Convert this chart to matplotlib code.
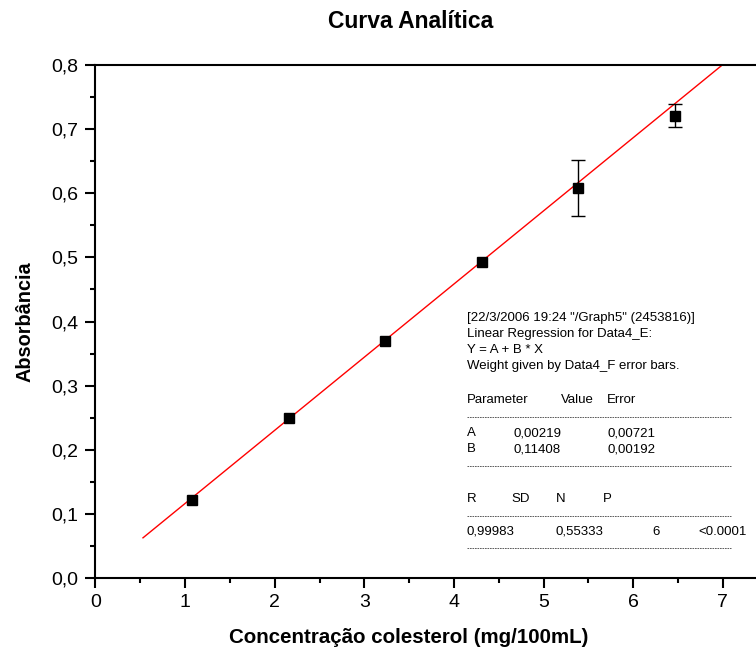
import matplotlib.pyplot as plt
import numpy as np
from matplotlib.ticker import MultipleLocator, FuncFormatter
from matplotlib.lines import Line2D

plt.rcParams['font.family'] = ['Liberation Sans', 'DejaVu Sans']

# Data
conc = np.array([1.077, 2.154, 3.231, 4.308, 5.385, 6.462])
absorb = np.array([0.122, 0.250, 0.370, 0.493, 0.608, 0.721])
err = np.array([0.0, 0.0, 0.0, 0.0, 0.044, 0.018])

# Regression parameters
A = 0.00219
B = 0.11408
fit_x = np.array([0.53, 7.0])

report_lines = [
    '[22/3/2006 19:24 "/Graph5" (2453816)]',
    'Linear Regression for Data4_E:',
    'Y = A + B * X',
    'Weight given by Data4_F error bars.',
]

fig = plt.figure(figsize=(7.56, 6.56), dpi=100)
ax = fig.add_axes([0.1263, 0.1189, 0.8737, 0.782])

ax.plot(fit_x, A + B * fit_x, color='red', linewidth=1, zorder=2)
has_err = err > 0
ax.errorbar(conc[has_err], absorb[has_err], yerr=err[has_err], fmt='none',
            ecolor='black', elinewidth=1, capsize=5, capthick=1, zorder=3)
ax.plot(conc, absorb, 's', color='black', markersize=7, zorder=4)

ax.set_xlim(0, 7.37)
ax.set_ylim(0, 0.8)
ax.xaxis.set_major_locator(MultipleLocator(1))
ax.xaxis.set_minor_locator(MultipleLocator(0.5))
ax.yaxis.set_major_locator(MultipleLocator(0.1))
ax.yaxis.set_minor_locator(MultipleLocator(0.05))
ax.xaxis.set_major_formatter(FuncFormatter(lambda v, p: f"{v:.0f}"))
ax.yaxis.set_major_formatter(FuncFormatter(lambda v, p: f"{v:.1f}".replace('.', ',')))
ax.tick_params(which='major', direction='out', length=7.5, width=1.5, labelsize=14)
ax.tick_params(axis='x', which='major', pad=4)
ax.tick_params(axis='y', which='major', pad=5)
ax.tick_params(which='minor', direction='out', length=3.5, width=1.5)
ax.spines['right'].set_visible(False)
for s in ['left', 'top', 'bottom']:
    ax.spines[s].set_linewidth(1.5)

fig.text(411 / 756, 1 - 22 / 656, 'Curva Analítica', ha='center', va='center',
         fontsize=16.5, fontweight='bold')
ax.set_xlabel('Concentração colesterol (mg/100mL)', fontsize=14.8, fontweight='bold')
ax.xaxis.set_label_coords((409 - 95.5) / (756 - 95.5), -(637 - 578) / 513, transform=ax.transAxes)
ax.xaxis.label.set_va('center')
ax.set_ylabel('Absorbância', fontsize=14.3, fontweight='bold')
ax.yaxis.set_label_coords(-(95.5 - 25) / (756 - 95.5), (578 - 322) / 513, transform=ax.transAxes)
ax.yaxis.label.set_va('center')

# Regression report box
def fx(px):
    return px / 756

def fy(py):
    return 1 - py / 656

fs = 9.5
for i, t in enumerate(report_lines):
    fig.text(fx(467), fy(318 + 16 * i), t, fontsize=fs, va='center')

fig.text(fx(467), fy(400), 'Parameter', fontsize=fs, va='center')
fig.text(fx(561), fy(400), 'Value', fontsize=fs, va='center')
fig.text(fx(607), fy(400), 'Error', fontsize=fs, va='center')
fig.text(fx(467), fy(433), 'A', fontsize=fs, va='center')
fig.text(fx(513), fy(433), '0,00219', fontsize=fs, va='center')
fig.text(fx(607), fy(433), '0,00721', fontsize=fs, va='center')
fig.text(fx(467), fy(449), 'B', fontsize=fs, va='center')
fig.text(fx(513), fy(449), '0,11408', fontsize=fs, va='center')
fig.text(fx(607), fy(449), '0,00192', fontsize=fs, va='center')
fig.text(fx(467), fy(499), 'R', fontsize=fs, va='center')
fig.text(fx(511), fy(499), 'SD', fontsize=fs, va='center')
fig.text(fx(556), fy(499), 'N', fontsize=fs, va='center')
fig.text(fx(603), fy(499), 'P', fontsize=fs, va='center')
fig.text(fx(467), fy(532), '0,99983', fontsize=fs, va='center')
fig.text(fx(556), fy(532), '0,55333', fontsize=fs, va='center')
fig.text(fx(652), fy(532), '6', fontsize=fs, va='center')
fig.text(fx(698), fy(532), '<0.0001', fontsize=fs, va='center')

for py in [417, 466, 516, 548]:
    fig.add_artist(Line2D([fx(467), fx(731)], [fy(py), fy(py)], color='#444444',
                          linewidth=0.6, linestyle=(0, (2, 1))))

fig.savefig('out.png', dpi=100)
